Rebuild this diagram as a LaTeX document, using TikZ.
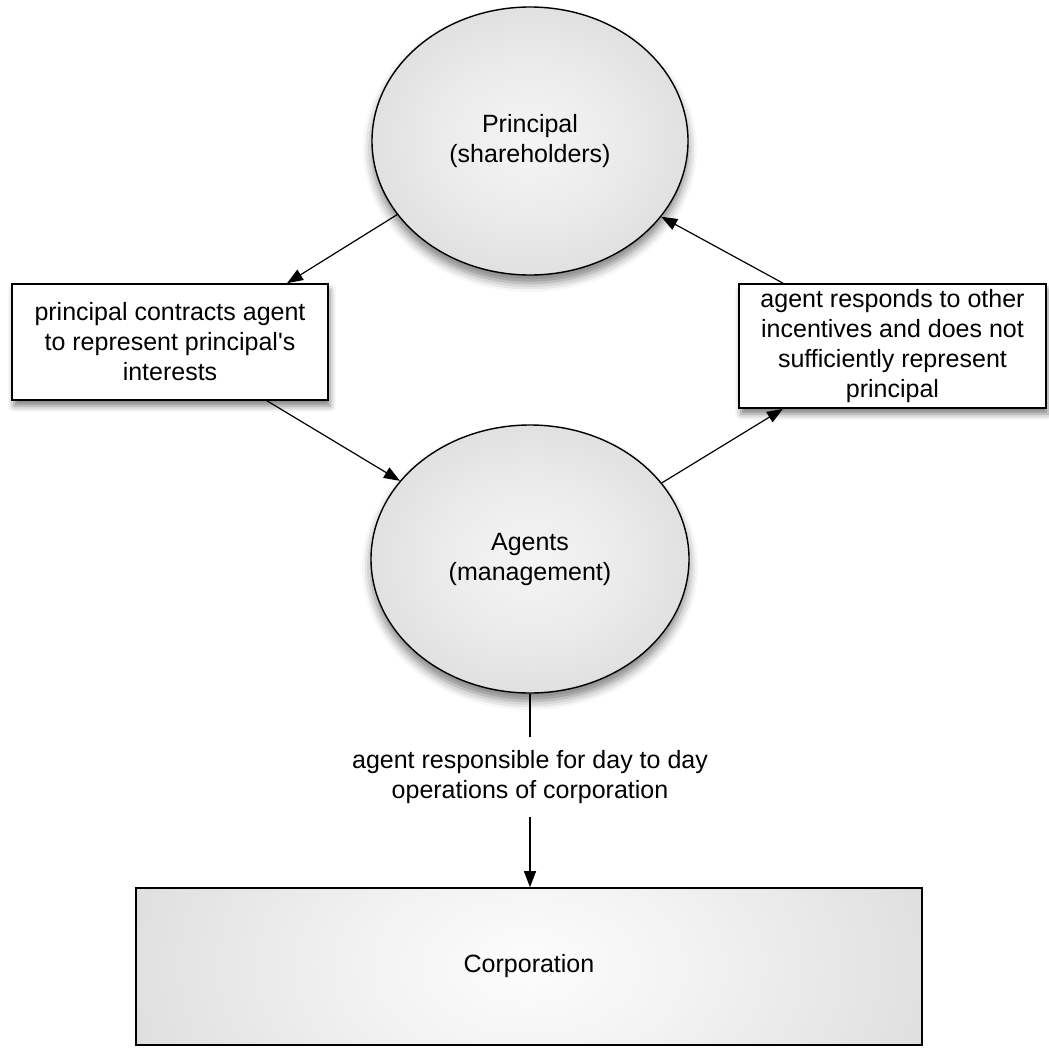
\documentclass[tikz,border=0pt]{standalone}
\usepackage{fontspec}
\setmainfont{Liberation Sans}
\usetikzlibrary{arrows.meta,shapes.geometric,shadows.blur,calc}
\pgfdeclareradialshading{ellshade}{\pgfpoint{0bp}{0bp}}{color(0bp)=(black!4); color(15bp)=(black!8); color(30bp)=(black!14); color(42bp)=(black!22); color(50bp)=(black!32)}
\pgfdeclareradialshading{boxshade}{\pgfpoint{0bp}{0bp}}{color(0bp)=(black!1); color(10bp)=(black!5); color(30bp)=(black!15); color(50bp)=(black!32)}
\begin{document}
\begin{tikzpicture}[x=1pt,y=-1pt,
  font=\fontsize{25}{30}\selectfont,
  party/.style={ellipse, draw=black, line width=1.4pt, inner sep=0pt, shading=ellshade, align=center,
    blur shadow={shadow xshift=0pt, shadow yshift=-8pt, shadow blur radius=9pt, shadow opacity=50}},
  note/.style={rectangle, draw=black, line width=1.6pt, fill=white, align=center, inner sep=0pt,
    blur shadow={shadow xshift=2pt, shadow yshift=-6pt, shadow blur radius=6pt, shadow opacity=50}},
  link/.style={line width=1.2pt, -{Triangle[length=16pt,width=12pt]}}
]
\useasboundingbox (0,0) rectangle (1049,1047);
\node[party, minimum width=316pt, minimum height=268pt] (P) at (530,141) {Principal\\(shareholders)};
\node[party, minimum width=318pt, minimum height=268pt] (A) at (530,559) {Agents\\(management)};
\node[note, minimum width=316pt, minimum height=116pt] (L) at (170,342) {principal contracts agent\\to represent principal\textquotesingle s\\interests};
\node[note, minimum width=307pt, minimum height=124pt] (R) at (892.5,346) {agent responds to other\\incentives and does not\\sufficiently represent\\principal};
\node[align=center, inner sep=0pt, minimum height=80pt] (M) at (530,777) {agent responsible for day to day\\operations of corporation};
\node[draw=black, line width=1.6pt, minimum width=786pt, minimum height=157pt,
  path picture={\fill[black!32] (path picture bounding box.south west) rectangle (path picture bounding box.north east);
    \shade[shading=boxshade] (path picture bounding box.center) ellipse [x radius=410pt, y radius=260pt];}] (C) at (529,966.5) {Corporation};
\draw[link] (P.209) -- ([xshift=117pt]L.north);
\draw[link] ([xshift=97pt]L.south) -- (A.149);
\draw[link] (A.30) -- ([xshift=-109.5pt]R.south);
\draw[link] ([xshift=-109.5pt]R.north) -- (P.330);
\draw[line width=1.2pt] (A.south) -- (M.north);
\draw[link] (M.south) -- (M.south |- C.north);
\end{tikzpicture}
\end{document}
